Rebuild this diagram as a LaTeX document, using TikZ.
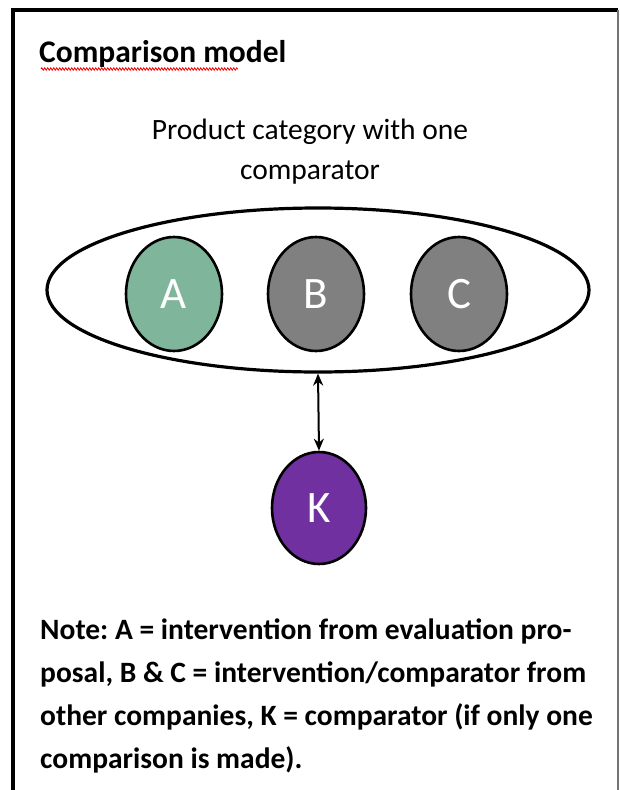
\documentclass[tikz,border=0pt]{standalone}
\usepackage{fontspec}
\setmainfont{Carlito}
\usetikzlibrary{arrows.meta,decorations.pathmorphing,shapes.geometric}
\definecolor{agreen}{HTML}{7FB59A}
\definecolor{bgray}{HTML}{808080}
\definecolor{kpurple}{HTML}{7030A0}
\tikzset{
  item/.style={ellipse, draw=black, line width=2.6pt, minimum width=96pt, minimum height=114pt, inner sep=0pt, text=white, font=\fontsize{45}{48}\selectfont},
  bothtips/.style={{Stealth[length=12pt,width=10pt]}-{Stealth[length=12pt,width=10pt]}},
}
\frenchspacing
\begin{document}
\begin{tikzpicture}[x=1pt,y=-1pt]
\useasboundingbox (0,0) rectangle (620,790);
\fill[white] (0,0) rectangle (620,790);
% frame
\draw[line width=3.2pt] (13,790) -- (13,10) -- (618,10);
\draw[line width=2pt, black!55] (618,10) -- (618,790);
% title
\node[anchor=base west, inner sep=0pt, font=\bfseries\fontsize{31.5}{36}\selectfont] (title) at (39,62) {Comparison model};
\draw[red, line width=0.8pt, decorate, decoration={zigzag, amplitude=1.2pt, segment length=3pt}] (41,69) -- (238,69);
% subtitle
\node[align=center, inner sep=0pt, font=\fontsize{29.5}{40}\selectfont] (sub) at (310,152) {Product category with one\\comparator};
% category ellipse
\node[ellipse, draw=black, line width=3.2pt, minimum width=542pt, minimum height=164pt, inner sep=0pt] (cat) at (318,290) {};
\node[item, fill=agreen] (A) at (174,294) {A};
\node[item, fill=bgray] (B) at (316,294) {B};
\node[item, fill=bgray] (C) at (459,294) {C};
\node[item, fill=kpurple, minimum width=94pt, minimum height=112pt] (K) at (319,508) {K};
\draw[line width=2pt, bothtips] (cat.south) -- (K.north);
% note
\node[anchor=north west, align=left, inner sep=0pt, font=\bfseries\fontsize{29.5}{43}\selectfont] (note) at (40,619) {Note: A = intervention from evaluation pro-\\posal, B \& C = intervention/comparator from\\other companies, K = comparator (if only one\\comparison is made).};
\end{tikzpicture}
\end{document}
